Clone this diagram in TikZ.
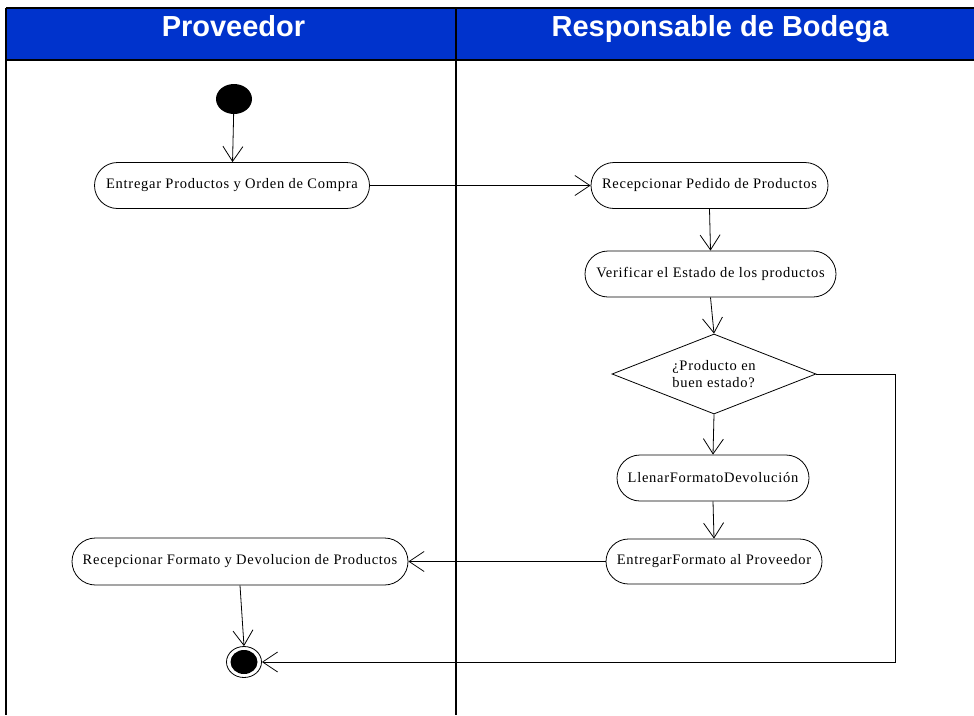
\documentclass[tikz,border=0pt]{standalone}
\usepackage{fontspec}
\setmainfont{Liberation Serif}
\newfontfamily\nodefont[LetterSpace=5]{Liberation Serif}
\newfontfamily\hdrfont{Liberation Sans}
\usetikzlibrary{arrows.meta,shapes.misc,shapes.geometric}
\definecolor{hdrblue}{HTML}{0033CC}
\tikzset{
  lane/.style={line width=2pt, draw=black},
  act/.style={rounded rectangle, draw=black, line width=0.8pt, fill=white, inner sep=0pt,
    minimum height=46pt, font=\nodefont\fontsize{14.5}{16}\selectfont},
  dec/.style={diamond, aspect=2.55, draw=black, line width=0.8pt, inner sep=0pt, align=left,
    font=\nodefont\fontsize{14.5}{16.5}\selectfont},
  arr/.style={line width=0.8pt, -{Straight Barb[length=15pt,width=20pt]}},
  hdr/.style={text=white, font=\hdrfont\bfseries\fontsize{29}{32}\selectfont, anchor=base, inner sep=0pt},
}
\begin{document}
\begin{tikzpicture}[x=1pt,y=-1pt]
\useasboundingbox (0,0) rectangle (974,715);
% header
\fill[hdrblue] (6,8) rectangle (974,60);
\draw[lane] (6,8) -- (974,8);
\draw[lane] (6,60) -- (974,60);
\draw[lane] (6,8) -- (6,715);
\draw[lane] (456,8) -- (456,715);
\node[hdr] (h1) at (233.5,36) {Proveedor};
\node[hdr] (h2) at (720,36) {Responsable de Bodega};
% nodes
\node[ellipse, fill=black, minimum width=36pt, minimum height=30pt, inner sep=0pt] (start) at (234,99) {};
\node[act, minimum width=275pt] (n1) at (232,185.5) {Entregar Productos y Orden de Compra};
\node[act, minimum width=237pt] (n2) at (709.5,185.5) {Recepcionar Pedido de Productos};
\node[act, minimum width=251pt] (n3) at (710.5,274) {Verificar el Estado de los productos};
\node[dec, minimum width=204pt, minimum height=80pt] (d) at (714,374) {¿Producto en\\buen estado?};
\node[act, minimum width=192pt] (n4) at (713,478) {LlenarFormatoDevolución};
\node[act, minimum width=216pt, minimum height=45pt] (n5) at (714,561.5) {EntregarFormato al Proveedor};
\node[act, minimum width=336pt, minimum height=47pt] (n6) at (240,561.5) {Recepcionar Formato y Devolucion de Productos};
\node[ellipse, draw=black, line width=0.8pt, minimum width=35pt, minimum height=31pt, inner sep=0pt] (endc) at (244,662) {};
\node[ellipse, fill=black, minimum width=27pt, minimum height=24pt, inner sep=0pt] (endin) at (244,662) {};
\coordinate (corner) at (895,662);
% connectors
\draw[arr] (start) -- (n1);
\draw[arr] (n1.east) -- (n2.west);
\draw[arr] (n2.south) -- (n3.north);
\draw[arr] (n3.south) -- (d.north);
\draw[arr] (d.south) -- (n4.north);
\draw[arr] (n4.south) -- (n5.north);
\draw[arr] (n5.west) -- (n6.east);
\draw[arr] (n6.south) -- (endc.north);
\draw[arr] (d.east) -| (corner) -- (endc.east);
\end{tikzpicture}
\end{document}
